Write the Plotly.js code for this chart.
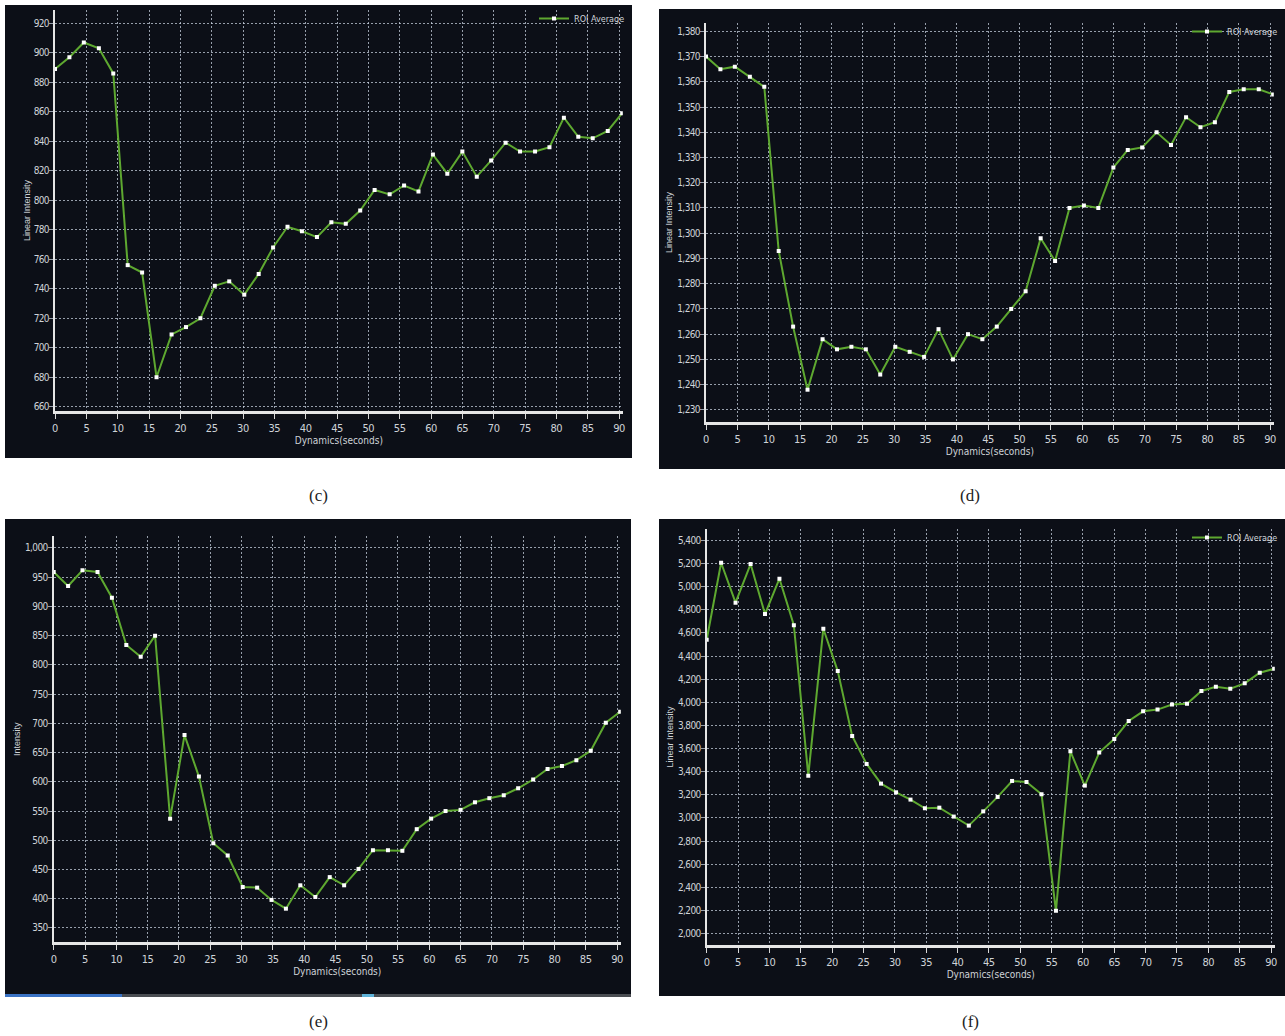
<!DOCTYPE html>
<html>
<head>
<meta charset="utf-8">
<script src="https://cdn.plot.ly/plotly-3.0.1.min.js"></script>
<style>
html,body{margin:0;padding:0;background:#fff;overflow:hidden;}
#chart{width:1285px;height:1036px;}
#chart .ytick text, #chart .y2tick text, #chart .y3tick text, #chart .y4tick text{letter-spacing:-0.6px;}
#chart .xtick text, #chart .x2tick text, #chart .x3tick text, #chart .x4tick text{letter-spacing:-0.4px;}
</style>
</head>
<body>
<div id="chart"></div>
<script>
// ---- data ----
const timeSeconds = [0, 2.3, 4.6, 7.0, 9.3, 11.6, 13.9, 16.2, 18.6, 20.9, 23.2, 25.5, 27.8, 30.2, 32.5, 34.8, 37.1, 39.4, 41.8, 44.1,
  46.4, 48.7, 51.0, 53.4, 55.7, 58.0, 60.3, 62.6, 65.0, 67.3, 69.6, 71.9, 74.2, 76.6, 78.9, 81.2, 83.5, 85.8, 88.2, 90.5];
const panelC = [889, 897, 907, 903, 886, 756, 751, 680, 709, 714, 720, 742, 745, 736, 750, 768, 782, 779, 775, 785,
  784, 793, 807, 804, 810, 806, 831, 818, 833, 816, 827, 839, 833, 833, 836, 856, 843, 842, 847, 859];
const panelD = [1370, 1365, 1366, 1362, 1358, 1293, 1263, 1238, 1258, 1254, 1255, 1254, 1244, 1255, 1253, 1251, 1262, 1250, 1260, 1258,
  1263, 1270, 1277, 1298, 1289, 1310, 1311, 1310, 1326, 1333, 1334, 1340, 1335, 1346, 1342, 1344, 1356, 1357, 1357, 1355];
const panelE = [959, 935, 962, 959, 915, 834, 814, 850, 537, 680, 609, 495, 474, 420, 419, 398, 383, 423, 403, 437,
  423, 451, 483, 483, 482, 519, 537, 550, 552, 565, 572, 577, 589, 604, 622, 627, 637, 653, 701, 720];
const panelF = [4541, 5206, 4861, 5195, 4763, 5068, 4667, 3365, 4636, 4270, 3709, 3467, 3297, 3222, 3159, 3084, 3089, 3012, 2934, 3057,
  3182, 3320, 3311, 3205, 2198, 3576, 3280, 3565, 3683, 3839, 3922, 3937, 3980, 3988, 4098, 4135, 4118, 4164, 4256, 4290];
const seriesName = "ROI Average";
const captions = ["(c)", "(d)", "(e)", "(f)"];
const yTitles = ["Linear Intensity", "Linear Intensity", "Intensity", "Linear Intensity"];
const xTitle = "Dynamics(seconds)";

// ---- layout helpers (pixel -> paper) ----
const W = 1285, H = 1036;
const px = v => v / W;
const py = v => 1 - v / H;

const BG = '#0c0f17';
const GRID = 'rgba(205,215,228,0.72)';
const TXT = '#cfd3d8';
const NARROW = '"DejaVu Sans Condensed", "Liberation Sans Narrow", "Liberation Sans", sans-serif';
const lineStyle = {color: '#5ea830', width: 2};
const markerStyle = {symbol: 'square', size: 4, color: '#ffffff'};

function mkTrace(y, idx, legendId) {
  const sfx = idx === 1 ? '' : String(idx);
  return {
    x: timeSeconds, y: y, type: 'scatter', mode: 'lines+markers', name: seriesName,
    line: lineStyle, marker: markerStyle,
    xaxis: 'x' + sfx, yaxis: 'y' + sfx,
    showlegend: !!legendId, legend: legendId || 'legend'
  };
}

function mkX(domain, anchor) {
  return {
    domain: domain, anchor: anchor, range: [0, 90.6], tick0: 0, dtick: 5,
    showgrid: true, gridcolor: GRID, griddash: '2px,2px', gridwidth: 1,
    showline: true, linecolor: '#e6e6e6', linewidth: 3,
    ticks: 'outside', ticklen: 5, tickcolor: '#d8d8d8', tickwidth: 1,
    tickfont: {family: NARROW, size: 11, color: TXT},
    zeroline: false, fixedrange: true, automargin: false,
    title: {text: xTitle, font: {family: NARROW, size: 10, color: TXT}, standoff: 1}
  };
}
function mkY(domain, anchor, range, dtick, tick0, title) {
  return {
    domain: domain, anchor: anchor, range: range, dtick: dtick, tick0: tick0,
    tickformat: ',d',
    showgrid: true, gridcolor: GRID, griddash: '2px,2px', gridwidth: 1,
    showline: true, linecolor: '#e6e6e6', linewidth: 2,
    ticks: 'outside', ticklen: 4, tickcolor: GRID, tickwidth: 1,
    ticklabelstandoff: -2,
    tickfont: {family: NARROW, size: 10, color: TXT},
    zeroline: false, fixedrange: true, automargin: false,
    title: {text: title, font: {family: '"Liberation Sans", Arial, sans-serif', size: 9, color: TXT}, standoff: 0}
  };
}

const data = [
  mkTrace(panelC, 1, 'legend'),
  mkTrace(panelD, 2, 'legend2'),
  mkTrace(panelE, 3, null),
  mkTrace(panelF, 4, 'legend3')
];

const legendBase = {
  bgcolor: 'rgba(0,0,0,0)', borderwidth: 0, xanchor: 'right', yanchor: 'top',
  font: {family: NARROW, size: 9, color: TXT}, itemwidth: 30, tracegroupgap: 0
};

const layout = {
  width: W, height: H,
  margin: {l: 0, r: 0, t: 0, b: 0, autoexpand: false},
  paper_bgcolor: '#ffffff', plot_bgcolor: 'rgba(0,0,0,0)',
  showlegend: true,
  xaxis: mkX([px(55), px(622.8)], 'y'),
  yaxis: mkY([py(411), py(10)], 'x', [657.1, 929], 20, 660, yTitles[0]),
  xaxis2: mkX([px(706), px(1273.8)], 'y2'),
  yaxis2: mkY([py(422), py(23)], 'x2', [1225.2, 1383.3], 10, 1230, yTitles[1]),
  xaxis3: mkX([px(53.7), px(620.8)], 'y3'),
  yaxis3: mkY([py(942), py(536.3)], 'x3', [326, 1020], 50, 350, yTitles[2]),
  xaxis4: mkX([px(706.7), px(1274.8)], 'y4'),
  yaxis4: mkY([py(945), py(529)], 'x4', [1902, 5498], 200, 2000, yTitles[3]),
  legend: Object.assign({}, legendBase, {x: px(630), y: py(4)}),
  legend2: Object.assign({}, legendBase, {x: px(1283), y: py(17)}),
  legend3: Object.assign({}, legendBase, {x: px(1283), y: py(523)}),
  shapes: [
    {type: 'rect', xref: 'paper', yref: 'paper', x0: px(5), x1: px(632), y0: py(458), y1: py(5), fillcolor: BG, line: {width: 0}, layer: 'below'},
    {type: 'rect', xref: 'paper', yref: 'paper', x0: px(659), x1: px(1285), y0: py(469), y1: py(9), fillcolor: BG, line: {width: 0}, layer: 'below'},
    {type: 'rect', xref: 'paper', yref: 'paper', x0: px(5), x1: px(631), y0: py(997), y1: py(519), fillcolor: BG, line: {width: 0}, layer: 'below'},
    {type: 'rect', xref: 'paper', yref: 'paper', x0: px(659), x1: px(1285), y0: py(996), y1: py(519), fillcolor: BG, line: {width: 0}, layer: 'below'},
    {type: 'rect', xref: 'paper', yref: 'paper', x0: px(5), x1: px(122), y0: py(997), y1: py(994), fillcolor: '#3b73c4', line: {width: 0}, layer: 'below'},
    {type: 'rect', xref: 'paper', yref: 'paper', x0: px(122), x1: px(631), y0: py(997), y1: py(994), fillcolor: '#4a4d52', line: {width: 0}, layer: 'below'},
    {type: 'rect', xref: 'paper', yref: 'paper', x0: px(362), x1: px(374), y0: py(997), y1: py(994), fillcolor: '#5fb3d9', line: {width: 0}, layer: 'below'}
  ],
  annotations: captions.map((c, i) => ({
    text: c, x: px(i % 2 === 0 ? 318 : 970), y: py(i < 2 ? 495 : 1021), xref: 'paper', yref: 'paper',
    xanchor: 'center', yanchor: 'middle', showarrow: false,
    font: {family: '"Liberation Serif", "DejaVu Serif", serif', size: 17, color: '#222'}
  }))
};

Plotly.newPlot('chart', data, layout, {displayModeBar: false, staticPlot: true});
</script>
</body>
</html>
